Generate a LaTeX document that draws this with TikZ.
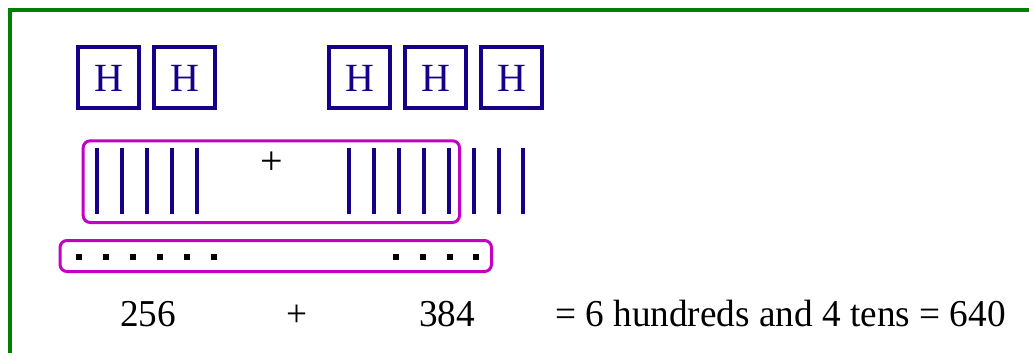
\documentclass[tikz,border=0pt]{standalone}
\usepackage{fontspec}
\setmainfont{Liberation Serif}
\newfontfamily\sumfont[FakeStretch=0.98]{Liberation Serif}
\definecolor{navy}{RGB}{22,0,136}
\definecolor{frameg}{RGB}{0,128,0}
\definecolor{magbox}{RGB}{196,0,196}
\tikzset{
  hbox/.style={draw=navy, line width=4pt, minimum width=61pt, minimum height=61pt, inner sep=0pt, text=navy, font=\fontsize{40}{42}\selectfont},
  tenline/.style={draw=navy, line width=4pt},
  groupbox/.style={draw=magbox, line width=3pt, rounded corners=7pt},
  unitdot/.style={fill=black},
  bigtext/.style={inner sep=0pt, font=\sumfont\fontsize{38}{40}\selectfont},
}
\begin{document}
\begin{tikzpicture}[x=1pt,y=-1pt]
\useasboundingbox (0,0) rectangle (1029,353);
% frame
\draw[frameg, line width=4pt] (10,355) -- (10,10) -- (1031,10);
% hundreds
\node[hbox] (h1) at (108.5,78) {H};
\node[hbox] (h2) at (184.5,78) {H};
\node[hbox] (h3) at (359.5,78) {H};
\node[hbox] (h4) at (435.5,78) {H};
\node[hbox] (h5) at (511.5,78) {H};
% tens
\foreach \x in {97,122,147,172,197,349,374,399,424,448.5,473.5,498.5,523}
  \draw[tenline] (\x,148) -- (\x,214);
\node[inner sep=0pt, font=\fontsize{40}{42}\selectfont] (tplus) at (272,163) {+};
\draw[groupbox] (83.2,140.8) rectangle (459.5,222.5);
% units
\foreach \x in {79.3,106.3,133.3,160.3,187.3,214.3,395.7,422.6,449.5,476.4}
  \fill[unitdot] (\x-3,254.3) rectangle (\x+3,260.3);
\draw[groupbox] (60,240.5) rectangle (491.5,271.5);
% sums
\node[bigtext, anchor=base west] (a) at (120,326) {256};
\node[bigtext, anchor=base] (p) at (297,326) {+};
\node[bigtext, anchor=base west] (b) at (419,326) {384};
\node[bigtext, anchor=base west] (r) at (555,326) {= 6 hundreds and 4 tens = 640};
\end{tikzpicture}
\end{document}
